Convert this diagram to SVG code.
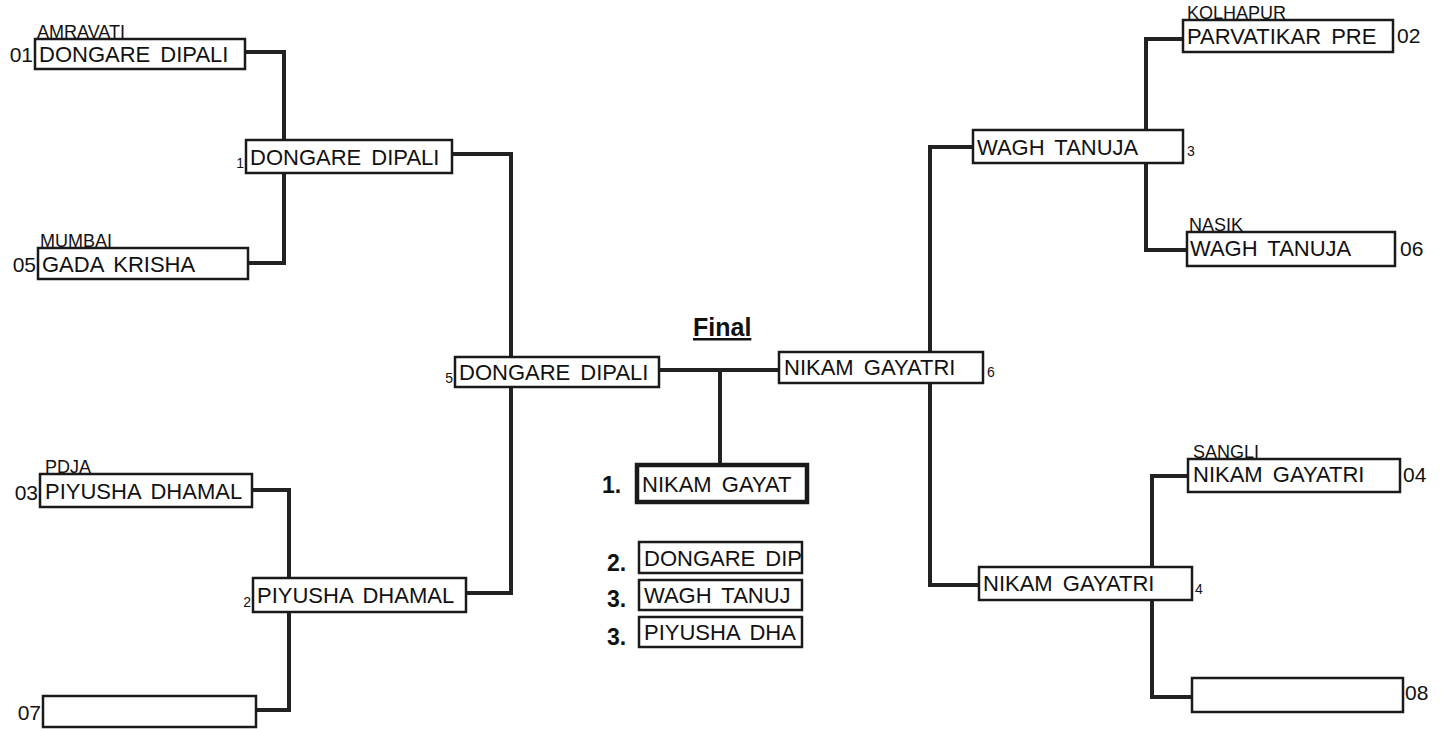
<svg xmlns="http://www.w3.org/2000/svg" width="1446" height="729" viewBox="0 0 1446 729">
<style>
.bx{fill:#fff;stroke:#1a1a1a;stroke-width:2.5}
.bw{fill:#fff;stroke:#1a1a1a;stroke-width:4.5}
.nm{font-family:"Liberation Sans",Arial,sans-serif;font-size:22px;fill:#111;word-spacing:4px}
.city{font-family:"Liberation Sans",Arial,sans-serif;font-size:18px;fill:#111}
.seed{font-family:"Liberation Sans",Arial,sans-serif;font-size:21px;fill:#111}
.rn{font-family:"Liberation Sans",Arial,sans-serif;font-size:14px;fill:#111}
.pl{font-family:"Liberation Sans",Arial,sans-serif;font-size:23px;font-weight:bold;fill:#111}
.cn{fill:none;stroke:#222;stroke-width:4;stroke-linejoin:miter}
</style>
<rect width="1446" height="729" fill="#fff"/>
<g id="connectors">
<path class="cn" d="M245,52 H284 V263 H248"/>
<path class="cn" d="M252,490 H289 V710 H256"/>
<path class="cn" d="M452,154 H511 V593 H466"/>
<path class="cn" d="M659,370 H779"/>
<path class="cn" d="M720,370 V465"/>
<path class="cn" d="M973,147 H930 V585 H979"/>
<path class="cn" d="M1183,39 H1146 V250 H1187"/>
<path class="cn" d="M1188,476 H1152 V697 H1192"/>
</g>
<g id="n01"><rect class="bx" x="35" y="39" width="210" height="30"/><text class="nm" x="39" y="62">DONGARE DIPALI</text><text class="seed" x="33" y="62" text-anchor="end">01</text><text class="city" x="37" y="38">AMRAVATI</text></g>
<g id="n05"><rect class="bx" x="38" y="248" width="210" height="31"/><text class="nm" x="42" y="272">GADA KRISHA</text><text class="seed" x="36" y="272" text-anchor="end">05</text><text class="city" x="40" y="247">MUMBAI</text></g>
<g id="n03"><rect class="bx" x="40" y="474" width="212" height="33"/><text class="nm" x="45" y="499">PIYUSHA DHAMAL</text><text class="seed" x="38" y="500" text-anchor="end">03</text><text class="city" x="45" y="473">PDJA</text></g>
<g id="n07"><rect class="bx" x="43" y="696" width="213" height="31"/><text class="seed" x="41" y="720" text-anchor="end">07</text></g>
<g id="r1"><rect class="bx" x="246" y="140" width="206" height="33"/><text class="nm" x="250" y="165">DONGARE DIPALI</text><text class="rn" x="244" y="168" text-anchor="end">1</text></g>
<g id="r2"><rect class="bx" x="253" y="578" width="213" height="34"/><text class="nm" x="257" y="603">PIYUSHA DHAMAL</text><text class="rn" x="251" y="607" text-anchor="end">2</text></g>
<g id="r5"><rect class="bx" x="455" y="357" width="204" height="30"/><text class="nm" x="459" y="380">DONGARE DIPALI</text><text class="rn" x="453" y="383" text-anchor="end">5</text></g>
<g id="r6"><rect class="bx" x="779" y="352" width="204" height="31"/><text class="nm" x="784" y="375">NIKAM GAYATRI</text><text class="rn" x="987" y="377">6</text></g>
<g id="r3"><rect class="bx" x="973" y="130" width="210" height="33"/><text class="nm" x="977" y="155">WAGH TANUJA</text><text class="rn" x="1187" y="156">3</text></g>
<g id="r4"><rect class="bx" x="979" y="567" width="213" height="33"/><text class="nm" x="983" y="591">NIKAM GAYATRI</text><text class="rn" x="1195" y="594">4</text></g>
<g id="n02"><rect class="bx" x="1183" y="20" width="210" height="32"/><text class="nm" x="1187" y="44">PARVATIKAR PRE</text><text class="seed" x="1397" y="43">02</text><text class="city" x="1187" y="19">KOLHAPUR</text></g>
<g id="n06"><rect class="bx" x="1187" y="232" width="208" height="34"/><text class="nm" x="1190" y="256">WAGH TANUJA</text><text class="seed" x="1400" y="256">06</text><text class="city" x="1189" y="231">NASIK</text></g>
<g id="n04"><rect class="bx" x="1188" y="459" width="212" height="33"/><text class="nm" x="1193" y="482">NIKAM GAYATRI</text><text class="seed" x="1403" y="482">04</text><text class="city" x="1193" y="458">SANGLI</text></g>
<g id="n08"><rect class="bx" x="1192" y="678" width="211" height="34"/><text class="seed" x="1405" y="700">08</text></g>
<g id="final"><text x="693" y="336" font-family="Liberation Sans,Arial,sans-serif" font-size="25" font-weight="bold" fill="#111" text-decoration="underline">Final</text></g>
<g id="p1"><rect class="bw" x="637" y="465" width="170" height="37"/><text class="nm" x="642" y="492">NIKAM GAYAT</text><text class="pl" x="602" y="493">1.</text></g>
<g id="p2"><rect class="bx" x="639" y="542" width="163" height="31"/><text class="nm" x="644" y="566">DONGARE DIP</text><text class="pl" x="607" y="571">2.</text></g>
<g id="p3a"><rect class="bx" x="639" y="580" width="163" height="30"/><text class="nm" x="644" y="603">WAGH TANUJ</text><text class="pl" x="607" y="607">3.</text></g>
<g id="p3b"><rect class="bx" x="639" y="617" width="163" height="30"/><text class="nm" x="644" y="640">PIYUSHA DHA</text><text class="pl" x="607" y="645">3.</text></g>
</svg>
